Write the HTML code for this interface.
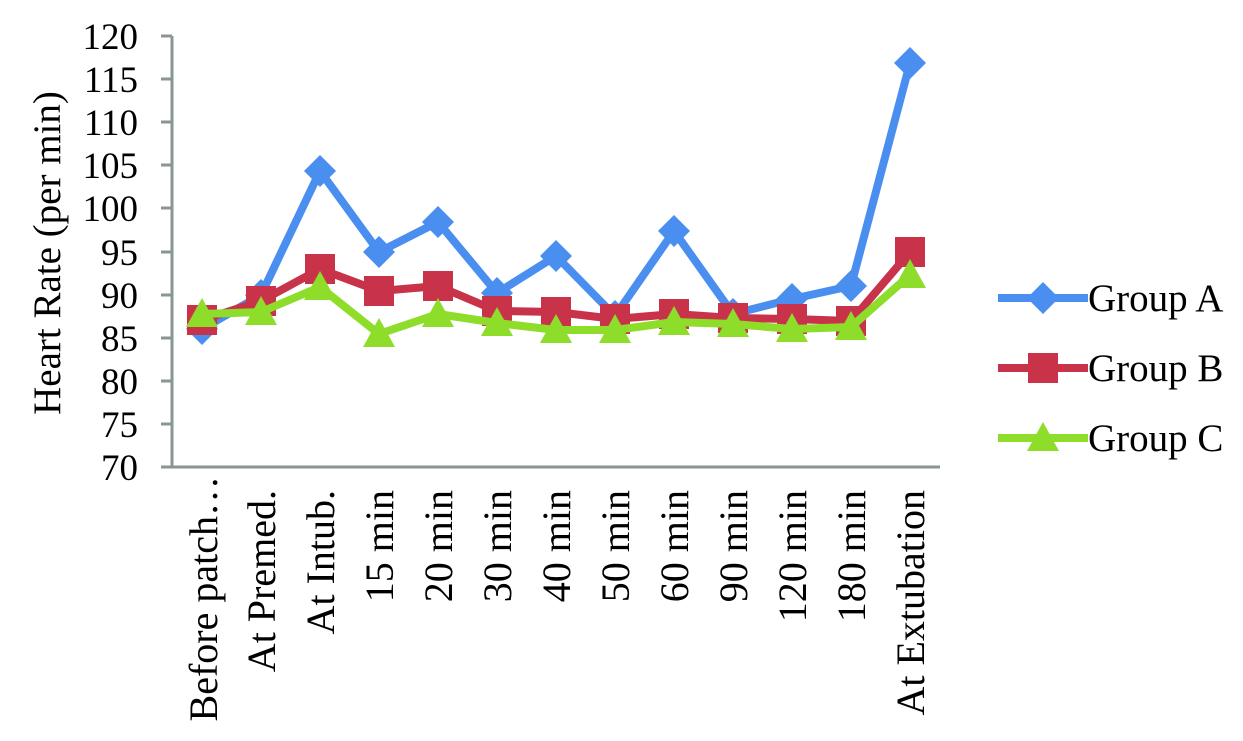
<!DOCTYPE html>
<html><head><meta charset="utf-8"><style>body{margin:0;background:#fff}svg{display:block}text{font-family:"Liberation Serif",serif;fill:#000}</style></head><body>
<svg width="1243" height="741" xmlns="http://www.w3.org/2000/svg">
<g stroke="#8a9694" stroke-width="3">
<line x1="172" y1="36" x2="172" y2="468"/>
<line x1="170" y1="467" x2="940" y2="467"/>
<line x1="161" y1="36" x2="172" y2="36"/><line x1="161" y1="79" x2="172" y2="79"/><line x1="161" y1="122" x2="172" y2="122"/><line x1="161" y1="165" x2="172" y2="165"/><line x1="161" y1="208" x2="172" y2="208"/><line x1="161" y1="252" x2="172" y2="252"/><line x1="161" y1="295" x2="172" y2="295"/><line x1="161" y1="338" x2="172" y2="338"/><line x1="161" y1="381" x2="172" y2="381"/><line x1="161" y1="424" x2="172" y2="424"/><line x1="161" y1="467" x2="172" y2="467"/>
</g>
<g font-size="37" text-anchor="end">
<text x="138" y="49">120</text><text x="138" y="92">115</text><text x="138" y="135">110</text><text x="138" y="178">105</text><text x="138" y="221">100</text><text x="138" y="265">95</text><text x="138" y="308">90</text><text x="138" y="351">85</text><text x="138" y="394">80</text><text x="138" y="437">75</text><text x="138" y="480">70</text>
</g>
<text font-size="39" text-anchor="middle" transform="translate(60,253) rotate(-90)">Heart Rate (per min)</text>
<g font-size="40" text-anchor="end">
<text transform="translate(217,476) rotate(-90)">Before patch…</text>
<text transform="translate(275,490) rotate(-90)">At Premed.</text>
<text transform="translate(334,490) rotate(-90)">At Intub.</text>
<text transform="translate(393,490) rotate(-90)">15 min</text>
<text transform="translate(452,490) rotate(-90)">20 min</text>
<text transform="translate(511,490) rotate(-90)">30 min</text>
<text transform="translate(570,490) rotate(-90)">40 min</text>
<text transform="translate(629,490) rotate(-90)">50 min</text>
<text transform="translate(688,490) rotate(-90)">60 min</text>
<text transform="translate(747,490) rotate(-90)">90 min</text>
<text transform="translate(806,490) rotate(-90)">120 min</text>
<text transform="translate(865,490) rotate(-90)">180 min</text>
<text transform="translate(924,490) rotate(-90)">At Extubation</text>
</g>
<polyline fill="none" stroke="#4a8ff0" stroke-width="8" stroke-linejoin="round" points="202,329 261,295 320,171 379,252 438,222 497,293 556,256 615,316 674,231 733,314 792,299 851,286 910,63"/>
<g fill="#4a8ff0">
<path d="M202,313l16,16l-16,16l-16,-16z"/><path d="M261,279l16,16l-16,16l-16,-16z"/><path d="M320,155l16,16l-16,16l-16,-16z"/><path d="M379,236l16,16l-16,16l-16,-16z"/><path d="M438,206l16,16l-16,16l-16,-16z"/><path d="M497,277l16,16l-16,16l-16,-16z"/><path d="M556,240l16,16l-16,16l-16,-16z"/><path d="M615,300l16,16l-16,16l-16,-16z"/><path d="M674,215l16,16l-16,16l-16,-16z"/><path d="M733,298l16,16l-16,16l-16,-16z"/><path d="M792,283l16,16l-16,16l-16,-16z"/><path d="M851,270l16,16l-16,16l-16,-16z"/><path d="M910,47l16,16l-16,16l-16,-16z"/>
</g>
<polyline fill="none" stroke="#c8334a" stroke-width="8" stroke-linejoin="round" points="202,320 261,301 320,269 379,291 438,286 497,311 556,312 615,319 674,314 733,318 792,319 851,321 910,252"/>
<g fill="#c8334a">
<rect x="187" y="305" width="30" height="30"/><rect x="246" y="286" width="30" height="30"/><rect x="305" y="254" width="30" height="30"/><rect x="364" y="276" width="30" height="30"/><rect x="423" y="271" width="30" height="30"/><rect x="482" y="296" width="30" height="30"/><rect x="541" y="297" width="30" height="30"/><rect x="600" y="304" width="30" height="30"/><rect x="659" y="299" width="30" height="30"/><rect x="718" y="303" width="30" height="30"/><rect x="777" y="304" width="30" height="30"/><rect x="836" y="306" width="30" height="30"/><rect x="895" y="237" width="30" height="30"/>
</g>
<polyline fill="none" stroke="#8ddd2a" stroke-width="8" stroke-linejoin="round" points="202,314 261,312 320,287 379,334 438,314 497,323 556,330 615,330 674,322 733,324 792,329 851,327 910,275"/>
<g fill="#8ddd2a">
<path d="M202,298l16,29h-32z"/><path d="M261,296l16,29h-32z"/><path d="M320,271l16,29h-32z"/><path d="M379,318l16,29h-32z"/><path d="M438,298l16,29h-32z"/><path d="M497,307l16,29h-32z"/><path d="M556,314l16,29h-32z"/><path d="M615,314l16,29h-32z"/><path d="M674,306l16,29h-32z"/><path d="M733,308l16,29h-32z"/><path d="M792,313l16,29h-32z"/><path d="M851,311l16,29h-32z"/><path d="M910,259l16,29h-32z"/>
</g>
<line x1="998" y1="298" x2="1088" y2="298" stroke="#4a8ff0" stroke-width="8"/>
<path d="M1043,282l16,16l-16,16l-16,-16z" fill="#4a8ff0"/>
<text x="1088" y="311" font-size="39">Group A</text>
<line x1="998" y1="368" x2="1088" y2="368" stroke="#c8334a" stroke-width="8"/>
<rect x="1028" y="353" width="30" height="30" fill="#c8334a"/>
<text x="1088" y="381" font-size="39">Group B</text>
<line x1="998" y1="438" x2="1088" y2="438" stroke="#8ddd2a" stroke-width="8"/>
<path d="M1043,422l16,29h-32z" fill="#8ddd2a"/>
<text x="1088" y="451" font-size="39">Group C</text>
</svg>
</body></html>
